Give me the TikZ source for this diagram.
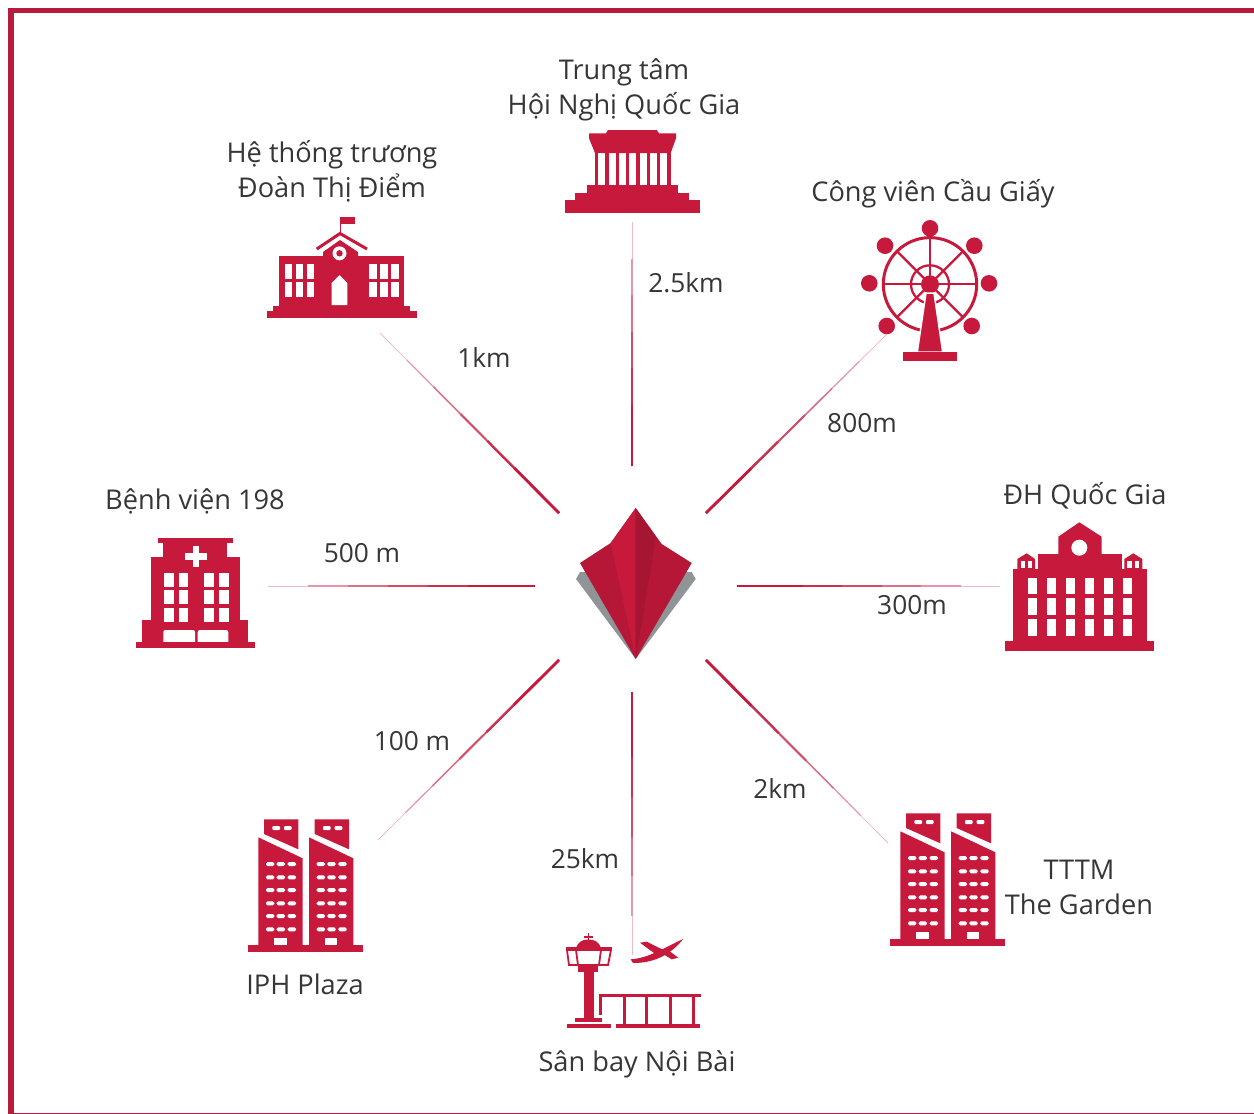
\documentclass[tikz,border=0pt]{standalone}
\usepackage{fontspec}
\setmainfont{Open Sans}
\usetikzlibrary{calc}
\definecolor{framered}{HTML}{B81C3C}
\definecolor{iconred}{HTML}{C6193B}
\definecolor{textgray}{HTML}{363636}
\definecolor{shadowgray}{HTML}{8F9496}
\tikzset{
  placetext/.style={text=textgray,align=center,inner sep=0pt,font=\fontsize{27.2}{34.5}\selectfont},
  disttext/.style={text=textgray,inner sep=0pt,font=\fontsize{26.3}{34.5}\selectfont},
  icon/.style={fill=iconred,draw=none},
  hole/.style={fill=white,draw=none},
  towers/.pic={
    \foreach \d in {0,50.7} {
      \fill[icon] (264+\d,819.3) -- (298.3+\d,819.3) -- (298.3+\d,849.3) -- (264+\d,834) -- cycle;
      \fill[icon] (258.3+\d,837.3) -- (302.7+\d,858.3) -- (302.7+\d,945) -- (258.3+\d,945) -- cycle;
      \foreach \x in {272.3,284} {
        \fill[hole,rounded corners=1pt] (\x+\d,826) rectangle ++(7.7,4);
      }
      \foreach \y in {862,875.3,888,901.3,914,927.3} {
        \foreach \x in {266,276.7,287.7} {
          \fill[hole,rounded corners=1.5pt] (\x+\d,\y) rectangle ++(8.3,4);
        }
      }
      \fill[hole] (274.3+\d,937.7) rectangle (286.7+\d,945);
    }
    \fill[icon] (248.3,945) rectangle (363.3,951.7);
  }
}
\begin{document}
\begin{tikzpicture}[x=1pt,y=-1pt]
    \useasboundingbox (0,0) rectangle (1254,1114);
    % outer frame
    \fill[framered] (8,7.5) rectangle (1254,12.7);
    \fill[framered] (8.3,7.5) rectangle (14,1114);
    \fill[framered] (8.3,1113) rectangle (1254,1114);
    % connector ends
    \coordinate (ctrN) at (632,466);
    \coordinate (ctrNE) at (706,513);
    \coordinate (ctrE) at (737,586);
    \coordinate (ctrSE) at (706,660);
    \coordinate (ctrS) at (632,692);
    \coordinate (ctrSW) at (559,660);
    \coordinate (ctrW) at (535,586);
    \coordinate (ctrNW) at (559,513);
    \coordinate (hall) at (632,222);
    \coordinate (park) at (886,335);
    \coordinate (univ) at (1000,586);
    \coordinate (garden) at (888,843);
    \coordinate (airport) at (632,955);
    \coordinate (plaza) at (378,840);
    \coordinate (hospital) at (268,586);
    \coordinate (school) at (380,333);
    % connectors, fading away from the middle
    \foreach \a/\b in {ctrN/hall,ctrNE/park,ctrE/univ,ctrSE/garden,ctrS/airport,ctrSW/plaza,ctrW/hospital,ctrNW/school} {
        \foreach \f/\w/\c in {1/0.8/30,.85/1.1/45,.7/1.5/62,.55/1.9/78,.4/2.3/90,.25/2.7/100} {
            \draw[draw=iconred!\c,line width=\w pt] (\a) -- ($(\a)!\f!(\b)$);
        }
    }
    % kite in the middle
    \fill[shadowgray] (580,572) -- (576,579) -- (635.7,659) -- (695.7,579) -- (691.7,572) -- cycle;
    \fill[fill=iconred!92!black] (580,563) -- (610.7,543) -- (635.7,508) -- (661.7,544) -- (691.7,563) -- (635.7,659) -- cycle;
    \fill[fill=iconred] (610.7,543) -- (635.7,508) -- (635.7,659) -- cycle;
    \fill[fill=iconred!84!black] (635.7,508) -- (656,537) -- (635.7,659) -- cycle;
    % hall
    \fill[icon] (565,200) rectangle (700,213.3);
    \fill[icon] (575,192.7) rectangle (689.3,200);
    \fill[icon] (586.7,185) rectangle (678.3,192.7);
    \foreach \i in {0,...,7} {
        \fill[icon] (595+\i*10.3,153) rectangle ++(3.4,33);
    }
    \fill[icon] (608,130) -- (656.7,130) -- (659,133.3) -- (676,133.3) -- (676,138.3) -- (670.7,153) -- (595,153) -- (589,138.3) -- (589,133.3) -- (606,133.3) -- cycle;
    % school
    \fill[icon] (266.7,310.7) rectangle (416.7,318.3);
    \fill[icon] (273,306) rectangle (410,311);
    \fill[icon] (279,256) rectangle (404,306);
    \fill[icon] (323,256) -- (323,252) -- (340,240) -- (358,252) -- (358,256) -- cycle;
    \draw[iconred,line width=3pt] (316.7,249) -- (340,233.5) -- (367,249);
    \draw[iconred,line width=1.6pt] (340.5,233) -- (340.5,217);
    \fill[icon] (340.7,216.7) rectangle (355.3,224);
    \fill[hole] (339.5,253.3) circle[radius=7];
    \fill[icon] (339.5,253.3) circle[radius=3.2];
    \fill[hole] (331.7,305) -- (331.7,283) -- (339.5,275) -- (347.3,283) -- (347.3,305) -- cycle;
    \foreach \gx in {285,369.3} {
        \foreach \x in {0,11,22} {
            \foreach \y in {264,281.7} {
                \fill[hole] (\gx+\x,\y) rectangle ++(7.3,15);
            }
        }
    }
    % ferris wheel
    \draw[iconred,line width=3pt] (930,284.3) circle[radius=46.7];
    \draw[iconred,line width=2.3pt] (930,284.3) circle[radius=19];
    \foreach \t in {0,45,...,315} {
        \draw[iconred,line width=2.3pt] (930,284.3) -- ++(\t:46);
    }
    \fill[icon] (930,284.3) circle[radius=9];
    \foreach \x/\y in {930/228.3,885/245.7,974.3/245.7,869.3/283.3,989/283.3,886.7/326,971.7/326} {
        \fill[icon] (\x,\y) circle[radius=8.3];
    }
    \fill[icon,draw=white,line width=1.5pt] (926,293) -- (934,293) -- (942.7,352) -- (917.3,352) -- cycle;
    \fill[icon] (903.3,351.7) rectangle (956.7,361);
    % university
    \fill[icon] (1005,640.7) rectangle (1154,650.7);
    \fill[icon] (1012.7,569.3) rectangle (1147.3,640.7);
    \fill[icon] (1037.7,554.3) rectangle (1122.3,569.3);
    \fill[icon] (1058.3,556) -- (1058.3,536.7) -- (1079.3,522.3) -- (1101.7,536.7) -- (1101.7,556) -- cycle;
    \fill[hole] (1079.3,547.7) circle[radius=8];
    \fill[icon] (1017.3,569.3) -- (1017.3,559) -- (1026.7,553.3) -- (1035,559) -- (1035,569.3) -- cycle;
    \fill[icon] (1124.3,569.3) -- (1124.3,559) -- (1133.3,553.3) -- (1142.3,559) -- (1142.3,569.3) -- cycle;
    \foreach \x in {1020.7,1027.7,1127.3,1135} {
        \fill[hole] (\x,560.7) rectangle ++(4.4,7.6);
    }
    \foreach \i in {0,...,5} {
        \foreach \y in {577.7,598.3,619.3} {
            \fill[hole] (1028.3+\i*19,\y) rectangle ++(8.3,16.7);
        }
    }
    % hospital
    \fill[icon] (157.7,537.7) rectangle (232.7,543.3);
    \fill[icon] (162.7,543) rectangle (227.3,557);
    \fill[icon] (150.7,556.7) rectangle (240,620);
    \fill[icon] (141.7,620) rectangle (248.3,641.7);
    \fill[icon] (136,641.7) rectangle (255,648.3);
    \fill[hole] (192.7,546) rectangle ++(6.7,20.7);
    \fill[hole] (185.2,552.8) rectangle ++(21.7,6.7);
    \foreach \x in {164.3,179,204.3,219.3} {
        \foreach \y in {572.7,590,607.7} {
            \fill[hole] (\x,\y) rectangle ++(9.3,14);
        }
    }
    \fill[hole,rounded corners=2pt] (163.3,645) -- (163.3,630) -- (195,630) -- (195,645) -- cycle;
    \fill[hole,rounded corners=2pt] (197.7,645) -- (197.7,630) -- (228.3,630) -- (228.3,645) -- cycle;
    \fill[icon] (141.7,641.7) rectangle (248.3,648.3);
    % office towers
    \pic at (0,0) {towers};
    \pic at (642,-6) {towers};
    % airport
    \draw[iconred,line width=1.6pt] (588.3,933) -- (588.3,941);
    \fill[icon] (584,936) rectangle (592.7,938);
    \fill[icon] (576,948) .. controls (578,942) and (582,939.5) .. (588.3,939.5) .. controls (595,939.5) and (599,942) .. (601,948) -- cycle;
    \fill[icon] (566,947.3) rectangle (611.7,950.7);
    \draw[iconred,line width=1.8pt] (567,950) -- (569,965) -- (608,965) -- (611,950);
    \draw[iconred,line width=1.8pt] (576,950) -- (578,965);
    \draw[iconred,line width=1.8pt] (601,950) -- (599,965);
    \fill[icon] (578,966) rectangle (598,972);
    \fill[icon] (584.3,972) rectangle (594,1018);
    \fill[icon] (575,1017.7) rectangle (601.7,1021.7);
    \fill[icon] (566.7,1024.3) rectangle (610.7,1028.3);
    \fill[icon] (599,994) rectangle (701,997.3);
    \fill[icon] (599,994) rectangle (602.3,1015);
    \foreach \x in {622.7,645.4,668.7,692} {
        \fill[icon] (\x,997) rectangle ++(2.8,28);
    }
    \fill[icon] (615.7,1024.3) rectangle (700,1028.3);
    \fill[icon] (630.7,959.3) .. controls (650,958) and (665,947) .. (683.3,939) .. controls (674,950) and (660,963) .. (633,963) -- cycle;
    \fill[icon] (640,942.7) -- (646.7,941.7) -- (665,950.7) -- (656.7,955) -- cycle;
    \fill[icon] (661.7,953.3) -- (668,950) -- (678.3,957.7) -- (671.7,959.3) -- cycle;
    % place names
    \node[placetext] (hallname) at (624,90) {Trung tâm\\Hội Nghị Quốc Gia};
    \node[placetext] (schoolname) at (332,171.5) {Hệ thống trương\\Đoàn Thị Điểm};
    \node[placetext] (parkname) at (933,194) {Công viên Cầu Giấy};
    \node[placetext] (hospitalname) at (195,501) {Bệnh viện 198};
    \node[placetext] (univname) at (1085,496) {ĐH Quốc Gia};
    \node[placetext] (plazaname) at (305,984) {IPH Plaza};
    \node[placetext] (airportname) at (637,1064) {Sân bay Nội Bài};
    \node[placetext] (gardenname) at (1079,887.5) {TTTM\\The Garden};
    % distances
    \foreach \n/\x/\y/\d in {a/484/358/1km,b/686/283/2.5km,c/862/423/800m,d/362/553/500 m,e/912/605/300m,f/412/741/100 m,g/585/859/25km,h/780/788/2km} {
        \node[disttext] (dist\n) at (\x,\y) {\d};
    }
\end{tikzpicture}
\end{document}
